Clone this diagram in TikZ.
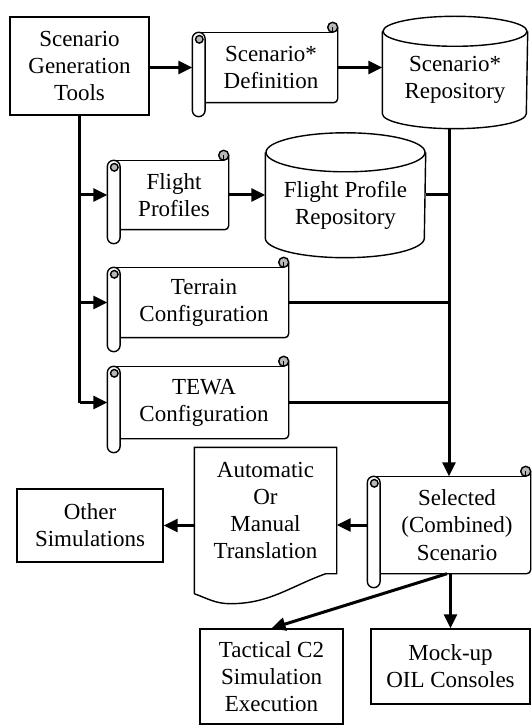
\documentclass[tikz,border=0pt]{standalone}
\usepackage{fontspec}
\setmainfont{Liberation Serif}
\usetikzlibrary{arrows.meta,calc}
\definecolor{curlgray}{gray}{0.72}
\tikzset{
  outline/.style={line width=0.7pt},
  box/.style={outline,inner sep=0pt,align=center,font=\fontsize{11.5}{13.6}\selectfont},
  plain/.style={box,draw=none},
  bus/.style={line width=1.5pt},
  conn/.style={bus,-{Triangle[length=7pt,width=6.5pt]}}
}
% scroll outline round a node
\newcommand{\scrolldeco}[1]{%
  \draw[outline] ([xshift=3.2pt]#1.north west) -- ([xshift=-2.5pt]#1.north east);
  \draw[outline,rounded corners=2pt] ([yshift=2.5pt]#1.north east) -- (#1.south east) -- ([xshift=6.4pt]#1.south west);
  \draw[outline] ([yshift=-3.2pt]#1.north west) -- ([yshift=-3.8pt]#1.south west)
     arc[start angle=180,end angle=360,radius=3.2pt] -- ([xshift=6.4pt,yshift=-3.2pt]#1.north west)
     arc[start angle=0,end angle=180,radius=3.2pt];
  \draw[outline,fill=curlgray] ([xshift=3.5pt,yshift=-3.5pt]#1.north west) circle[radius=1.9pt];
  \draw[outline,fill=curlgray] ([xshift=-2.5pt,yshift=2.5pt]#1.north east) circle[radius=2.5pt];
  \draw[outline] ([xshift=-2.5pt,yshift=2.5pt]#1.north east) -- ([xshift=-2.5pt]#1.north east);
}
% database cylinder round a node
\newcommand{\dbdeco}[3]{%
  \draw[outline] (#1.north west) -- ([yshift=#3]#1.south west)
     arc[start angle=180,end angle=360,x radius=#2,y radius=#3] -- (#1.north east);
  \draw[outline] (#1.north) ellipse[x radius=#2,y radius=#3];
}
\begin{document}
\begin{tikzpicture}[x=0.5pt,y=-0.5pt]
\useasboundingbox (0,0) rectangle (531,726);

\node[box,draw,minimum width=69.5pt,minimum height=49pt] (gen) at (79.5,66) {Scenario\\Generation\\Tools};
\node[plain,minimum width=72pt,minimum height=34.5pt] (def) at (265,67.5) {\hspace*{6pt}Scenario*\\\hspace*{6pt}Definition};
\node[plain,minimum width=72pt,minimum height=48pt] (srepo) at (455,80) {Scenario*\\Repository};
\node[plain,minimum width=60pt,minimum height=34pt] (fp) at (168,195) {\hspace*{6pt}Flight\\\hspace*{6pt}Profiles};
\node[plain,minimum width=79.5pt,minimum height=52pt] (fprepo) at (345.5,205) {Flight Profile\\Repository};
\node[plain,minimum width=90pt,minimum height=34.5pt] (ter) at (198,302.5) {\hspace*{6pt}Terrain\\\hspace*{6pt}Configuration};
\node[plain,minimum width=90pt,minimum height=35.5pt] (tewa) at (198,402.5) {\hspace*{6pt}TEWA\\\hspace*{6pt}Configuration};
\node[plain,minimum width=70.5pt,minimum height=62.5pt] (trans) at (265.5,510.5) {Automatic\\Or\\Manual\\Translation};
\node[plain,minimum width=81pt,minimum height=48pt] (sel) at (449,525) {\hspace*{8pt}Selected\\\hspace*{8pt}(Combined)\\\hspace*{8pt}Scenario};
\node[box,draw,minimum width=73pt,minimum height=36.5pt] (other) at (90,525.5) {Other\\Simulations};
\node[box,draw,minimum width=71.5pt,minimum height=47.5pt] (tact) at (271.5,676.5) {Tactical C2\\Simulation\\Execution};
\node[box,draw,minimum width=79.5pt,minimum height=37.5pt] (mock) at (450.5,666.5) {Mock-up\\OIL Consoles};

\scrolldeco{def}
\scrolldeco{fp}
\scrolldeco{ter}
\scrolldeco{tewa}
\scrolldeco{sel}
\dbdeco{srepo}{36pt}{7.5pt}
\dbdeco{fprepo}{39.75pt}{9.75pt}
\draw[outline] (trans.north west) -- (trans.north east) -- (trans.south east) -- ([xshift=-5.5pt]trans.south east)
   to[out=200,in=0] ([xshift=18pt,yshift=-15pt]trans.south west)
   to[out=180,in=-20] ([yshift=-10pt]trans.south west) -- cycle;

\draw[conn] (gen.east |- def.west) -- (def.west);
\draw[conn] (def.east) -- (def.east -| srepo.west);
\draw[bus] (gen.south) -- (gen.south |- tewa.west);
\foreach \n in {fp,ter,tewa}
  \draw[conn] (gen.south |- \n.west) -- (\n.west);
\draw[conn] (fp.east) -- (fp.east -| fprepo.west);
\draw[conn] (sel.north |- srepo.south) -- (sel.north);
\draw[bus] (fprepo.east |- fp.east) -- (sel.north |- fp.east);
\foreach \n in {ter,tewa}
  \draw[bus] (\n.east) -- (\n.east -| sel.north);
\draw[conn] (sel.west) -- (sel.west -| trans.east);
\draw[conn] (trans.west |- other.east) -- (other.east);
\draw[conn] (mock.north |- sel.south) -- (mock.north);
\draw[conn] ([xshift=-1pt]sel.south) -- (tact.north);
\end{tikzpicture}
\end{document}
